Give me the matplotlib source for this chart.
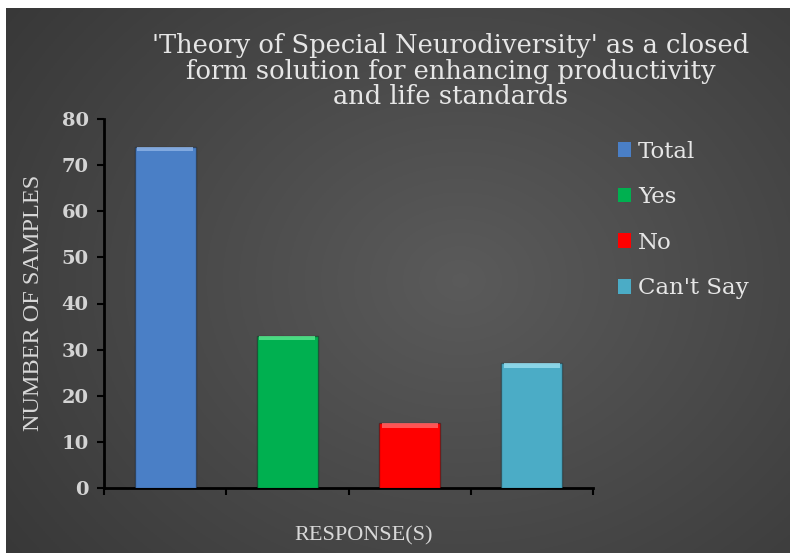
import numpy as np
import matplotlib
matplotlib.use("Agg")
import matplotlib.pyplot as plt
from matplotlib.patches import Patch

categories = ["Total", "Yes", "No", "Can't Say"]
values = [74, 33, 14, 27]
colors = ["#4a7fc6", "#00b050", "#ff0000", "#4bacc6"]
highlights = ["#8fb4e6", "#5ce88f", "#ff6a6a", "#9be0f0"]
yticks = [0, 10, 20, 30, 40, 50, 60, 70, 80]
title = ("'Theory of Special Neurodiversity' as a closed\n"
         "form solution for enhancing productivity\n"
         "and life standards")

W, H = 790, 553
fig = plt.figure(figsize=(W / 100, H / 100), dpi=100)
fig.patch.set_facecolor("white")

# background gradient panel (chart area starts a few px in from left/top)
bg = fig.add_axes([6 / W, 0, 1 - 6 / W, 1 - 8 / H])
bg.set_axis_off()
yy, xx = np.mgrid[0:1:300j, 0:1:400j]
r = np.sqrt(((xx - 0.58) / 0.8) ** 2 + ((yy - 0.5) / 0.95) ** 2)
shade = 0.355 - 0.15 * np.clip(r, 0, 1.2)
img = np.dstack([shade, shade, shade])
bg.imshow(img, aspect="auto", extent=[0, 1, 0, 1])
bg.set_xlim(0, 1)
bg.set_ylim(0, 1)

ax = fig.add_axes([104 / W, 1 - 488 / H, (593 - 104) / W, (488 - 119) / H])
ax.set_facecolor("none")
x = np.arange(len(categories))
ax.bar(x, values, width=0.5, color=colors, edgecolor=[(0, 0, 0, 0.3)] * 4,
       linewidth=1.0, zorder=3)
# bevel highlight along the top of each bar
cap = 0.9
ax.bar(x, [cap] * len(values), bottom=[v - cap for v in values], width=0.46,
       color=highlights, linewidth=0, zorder=4, alpha=0.8)
ax.set_xlim(-0.5, len(categories) - 0.5)
ax.set_ylim(0, 80)
ax.set_yticks(yticks)
ax.set_xticks(np.arange(-0.5, len(categories), 1.0))
ax.set_xticklabels([])
for s in ["top", "right"]:
    ax.spines[s].set_visible(False)
for s in ["left", "bottom"]:
    ax.spines[s].set_color("black")
    ax.spines[s].set_linewidth(2)
ax.tick_params(axis="both", direction="out", color="black", width=1.5, length=5)
ax.tick_params(axis="y", labelcolor="#d4d4d4", labelsize=14, pad=6)
for lbl in ax.get_yticklabels():
    lbl.set_fontfamily("DejaVu Serif")
    lbl.set_fontweight("bold")

fig.text(34 / W, 1 - 303 / H, "NUMBER OF SAMPLES", rotation=90, ha="center", va="center",
         color="#d8d8d8", fontsize=17.5, family="Liberation Serif")
fig.text(364 / W, 1 - 536 / H, "RESPONSE(S)", ha="center", va="center",
         color="#d8d8d8", fontsize=16, family="Liberation Serif")
fig.text(451 / W, 1 - 71 / H, title, ha="center", va="center", color="#e6e6e6",
         fontsize=18.5, family="DejaVu Serif", linespacing=1.0)

handles = [Patch(facecolor=c, edgecolor="none") for c in colors]
leg = fig.legend(handles, categories, loc="upper left",
                 bbox_to_anchor=(597 / W, 1 - 120 / H), frameon=False,
                 handlelength=0.6, handleheight=0.6, handletextpad=0.3,
                 labelspacing=1.03, prop={"family": "DejaVu Serif", "size": 16.5})
for t in leg.get_texts():
    t.set_color("#e6e6e6")

fig.savefig("out.png", dpi=100, facecolor=fig.get_facecolor())
